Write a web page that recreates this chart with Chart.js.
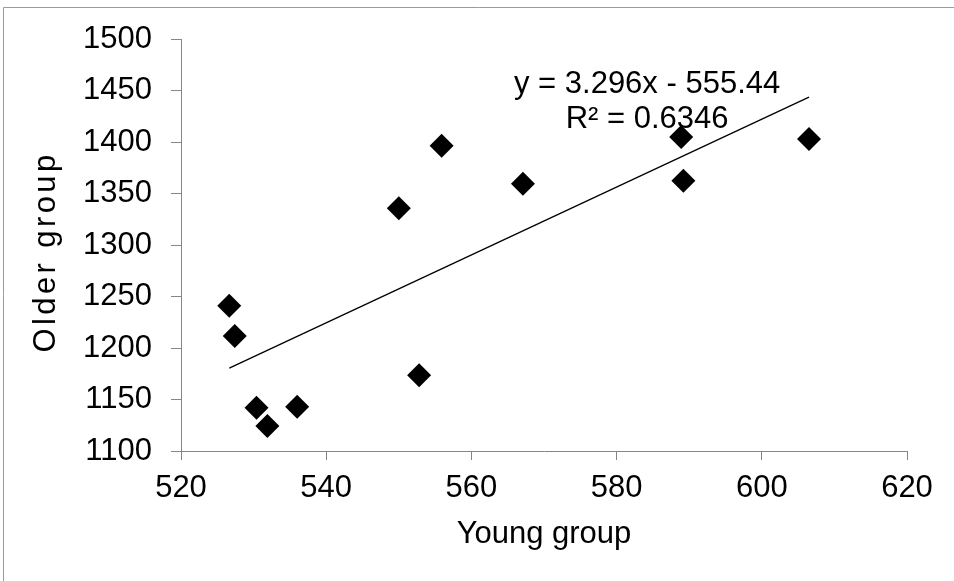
<!DOCTYPE html>
<html>
<head>
<meta charset="utf-8">
<script src="https://cdn.jsdelivr.net/npm/chart.js@4/dist/chart.umd.min.js"></script>
<style>
  html, body { margin: 0; padding: 0; background: #ffffff; }
  #wrap { position: relative; width: 954px; height: 581px; }
</style>
</head>
<body>
<div id="wrap"><canvas id="c" width="954" height="581"></canvas></div>
<script>
// ---- Data ----
const youngGroup = [526.65, 527.4, 530.4, 531.9, 536.0, 550.0, 552.8, 555.9, 567.1, 588.9, 589.2, 606.5];
const olderGroup = [1241.1, 1211.7, 1142.0, 1124.3, 1142.9, 1335.6, 1173.5, 1396.4, 1359.5, 1404.9, 1362.4, 1402.9];
const trendX = [526.65, 606.5];
const trendY = [1180.4, 1443.6];
const equationLines = ['y = 3.296x - 555.44', 'R\u00B2 = 0.6346'];
const equationAnchor = [584.2, 1447.3]; // data position of first line baseline centre
const xTitle = 'Young group';
const yTitle = 'Older group';
const xRange = [520, 620, 20];
const yRange = [1100, 1500, 50];

const FONT = '"Liberation Sans", Arial, sans-serif';
const AXIS_GRAY = '#868686';

const scatterPoints = youngGroup.map((x, i) => ({ x: x, y: olderGroup[i] }));
const trendPoints = trendX.map((x, i) => ({ x: x, y: trendY[i] }));

const framePlugin = {
  id: 'frame',
  beforeDraw(chart) {
    const ctx = chart.ctx;
    ctx.save();
    ctx.fillStyle = '#ffffff';
    ctx.fillRect(0, 0, chart.width, chart.height);
    ctx.strokeStyle = '#9a9a9a';
    ctx.lineWidth = 1;
    ctx.beginPath();
    ctx.moveTo(3.5, chart.height);
    ctx.lineTo(3.5, 7.5);
    ctx.lineTo(chart.width, 7.5);
    ctx.stroke();
    ctx.restore();
    // letter-spaced y-axis title, as in the reference
    const ys = chart.scales.y;
    if (!ys._spacedTitle) {
      const orig = ys.drawTitle.bind(ys);
      ys.drawTitle = function () {
        const c = this.ctx;
        c.save();
        c.letterSpacing = '3.4px';
        c.translate(0, 7);
        orig();
        c.restore();
      };
      ys._spacedTitle = true;
    }
  },
  afterDraw(chart) {
    const ctx = chart.ctx;
    const xs = chart.scales.x, ys = chart.scales.y;
    const px = xs.getPixelForValue(equationAnchor[0]);
    const py = ys.getPixelForValue(equationAnchor[1]);
    ctx.save();
    ctx.fillStyle = '#000000';
    ctx.font = '31px ' + FONT;
    ctx.textAlign = 'center';
    ctx.textBaseline = 'alphabetic';
    equationLines.forEach((t, i) => ctx.fillText(t, px, py + i * 34.4));
    ctx.restore();
  }
};

new Chart(document.getElementById('c'), {
  type: 'scatter',
  data: {
    datasets: [
      {
        label: 'Older vs Young',
        data: scatterPoints,
        pointStyle: 'rectRot',
        pointRadius: 12,
        pointHoverRadius: 12,
        backgroundColor: '#000000',
        borderColor: '#000000',
        borderWidth: 0,
        order: 0
      },
      {
        type: 'line',
        label: 'Linear trend',
        data: trendPoints,
        borderColor: '#000000',
        borderWidth: 1.3,
        pointRadius: 0,
        fill: false,
        order: 1
      }
    ]
  },
  options: {
    responsive: false,
    animation: false,
    devicePixelRatio: 1,
    layout: { padding: { left: 0, top: 39, right: 47, bottom: 0 } },
    plugins: {
      legend: { display: false },
      tooltip: { enabled: false }
    },
    scales: {
      x: {
        type: 'linear',
        min: xRange[0], max: xRange[1],
        afterFit(s) { s.height = 130; },
        ticks: {
          stepSize: xRange[2],
          color: '#000000',
          font: { family: FONT, size: 31 },
          padding: 10,
          maxRotation: 0,
          callback: (v) => String(v)
        },
        grid: { drawOnChartArea: false, drawTicks: true, tickLength: 9, color: AXIS_GRAY, lineWidth: 1 },
        border: { display: true, color: AXIS_GRAY, width: 1 },
        title: { display: true, text: xTitle, color: '#000000', font: { family: FONT, size: 31 }, padding: { top: 0, bottom: 28 } }
      },
      y: {
        type: 'linear',
        min: yRange[0], max: yRange[1],
        afterFit(s) { s.width = 181; },
        ticks: {
          stepSize: yRange[2],
          color: '#000000',
          font: { family: FONT, size: 31 },
          padding: 19,
          callback: (v) => String(v)
        },
        grid: { drawOnChartArea: false, drawTicks: true, tickLength: 10, color: AXIS_GRAY, lineWidth: 1 },
        border: { display: true, color: AXIS_GRAY, width: 1 },
        title: { display: true, text: yTitle, color: '#000000', font: { family: FONT, size: 31 }, padding: { top: 28, bottom: 0 } }
      }
    }
  },
  plugins: [framePlugin]
});
</script>
</body>
</html>
